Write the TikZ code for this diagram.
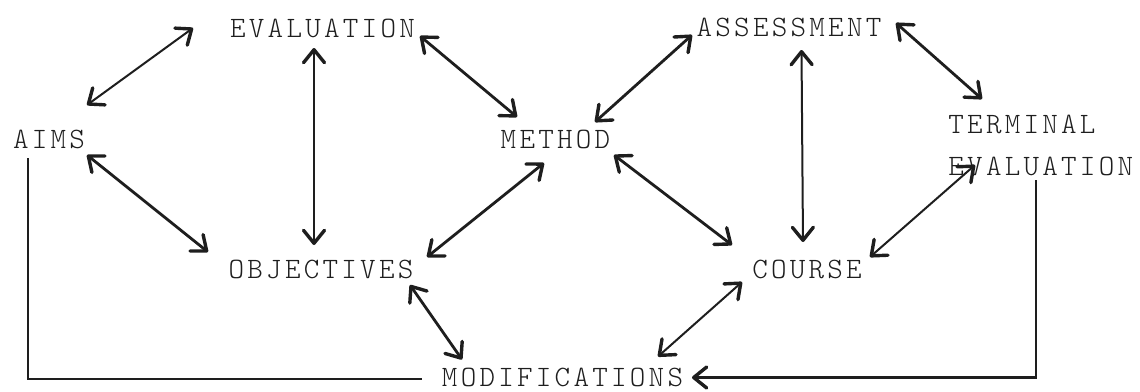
\documentclass[tikz,border=0pt]{standalone}
\usepackage{fontspec}
\newfontfamily\tw[LetterSpace=11]{Latin Modern Mono Light}
\usetikzlibrary{arrows.meta}
\definecolor{ink}{HTML}{1E1E1E}
\begin{document}
\begin{tikzpicture}[x=0.5pt,y=-0.5pt,
  lbl/.style={font=\tw\fontsize{14.8}{17}\selectfont, inner sep=0pt, text=ink, anchor=base},
  >={Straight Barb[length=6.5pt,width=10.5pt,line width=1.7pt,round]},
  thinlink/.style={draw=ink, line width=1pt, <->},
  boldlink/.style={draw=ink, line width=1.4pt, <->},
  feedback/.style={draw=ink, line width=1.1pt}
]
\useasboundingbox (0,0) rectangle (1140,391);
% nodes
\node[lbl] (eval)   at (322.5,37)  {EVALUATION};
\node[lbl] (assess) at (789,36)    {ASSESSMENT};
\node[lbl] (aims)   at (49,148)    {AIMS};
\node[lbl] (method) at (555.5,148) {METHOD};
\node[lbl,anchor=base west] (term)  at (948,133) {TERMINAL};
\node[lbl,anchor=base west] (term2) at (948,175) {EVALUATION};
\node[lbl] (obj)    at (321,278)   {OBJECTIVES};
\node[lbl] (course) at (807,278)   {COURSE};
\node[lbl] (mod)    at (562.5,386.5) {MODIFICATIONS};
% connectors
\draw[thinlink] ([shift={(38,-43)}]aims.base) -- ([shift={(-129.5,-9)}]eval.base);
\draw[boldlink] ([shift={(38,7)}]aims.base) -- ([shift={(-113,-26)}]obj.base);
\draw[thinlink] ([shift={(-8.5,11)}]eval.base) -- ([shift={(-7,-33)}]obj.base);
\draw[boldlink] ([shift={(97.5,-1)}]eval.base) -- ([shift={(-38.5,-31)}]method.base);
\draw[boldlink] ([shift={(-11.5,15)}]method.base) -- ([shift={(106,-21)}]obj.base);
\draw[boldlink] ([shift={(89,7)}]obj.base) -- ([shift={(-100.5,-27)}]mod.base);
\draw[boldlink] ([shift={(39.5,-26)}]method.base) -- ([shift={(-97,-1)}]assess.base);
\draw[thinlink] ([shift={(12.5,14)}]assess.base) -- ([shift={(-4,-36)}]course.base);
\draw[boldlink] ([shift={(107,-13)}]assess.base) -- ([shift={(34,-34)}]term.base west);
\draw[boldlink] ([shift={(58.5,7)}]method.base) -- ([shift={(-75,-33)}]course.base);
\draw[thinlink] ([shift={(63,-21)}]course.base) -- ([shift={(27,-10)}]term2.base west);
\draw[thinlink] ([shift={(-65,4)}]course.base) -- ([shift={(95.5,-30)}]mod.base);
% feedback loops
\draw[feedback] ([shift={(-21,10)}]aims.base) |- ([shift={(-140.5,-7.5)}]mod.base);
\draw[feedback,->] ([shift={(88,5)}]term2.base west) |- ([shift={(129.5,-9)}]mod.base);
\end{tikzpicture}
\end{document}
